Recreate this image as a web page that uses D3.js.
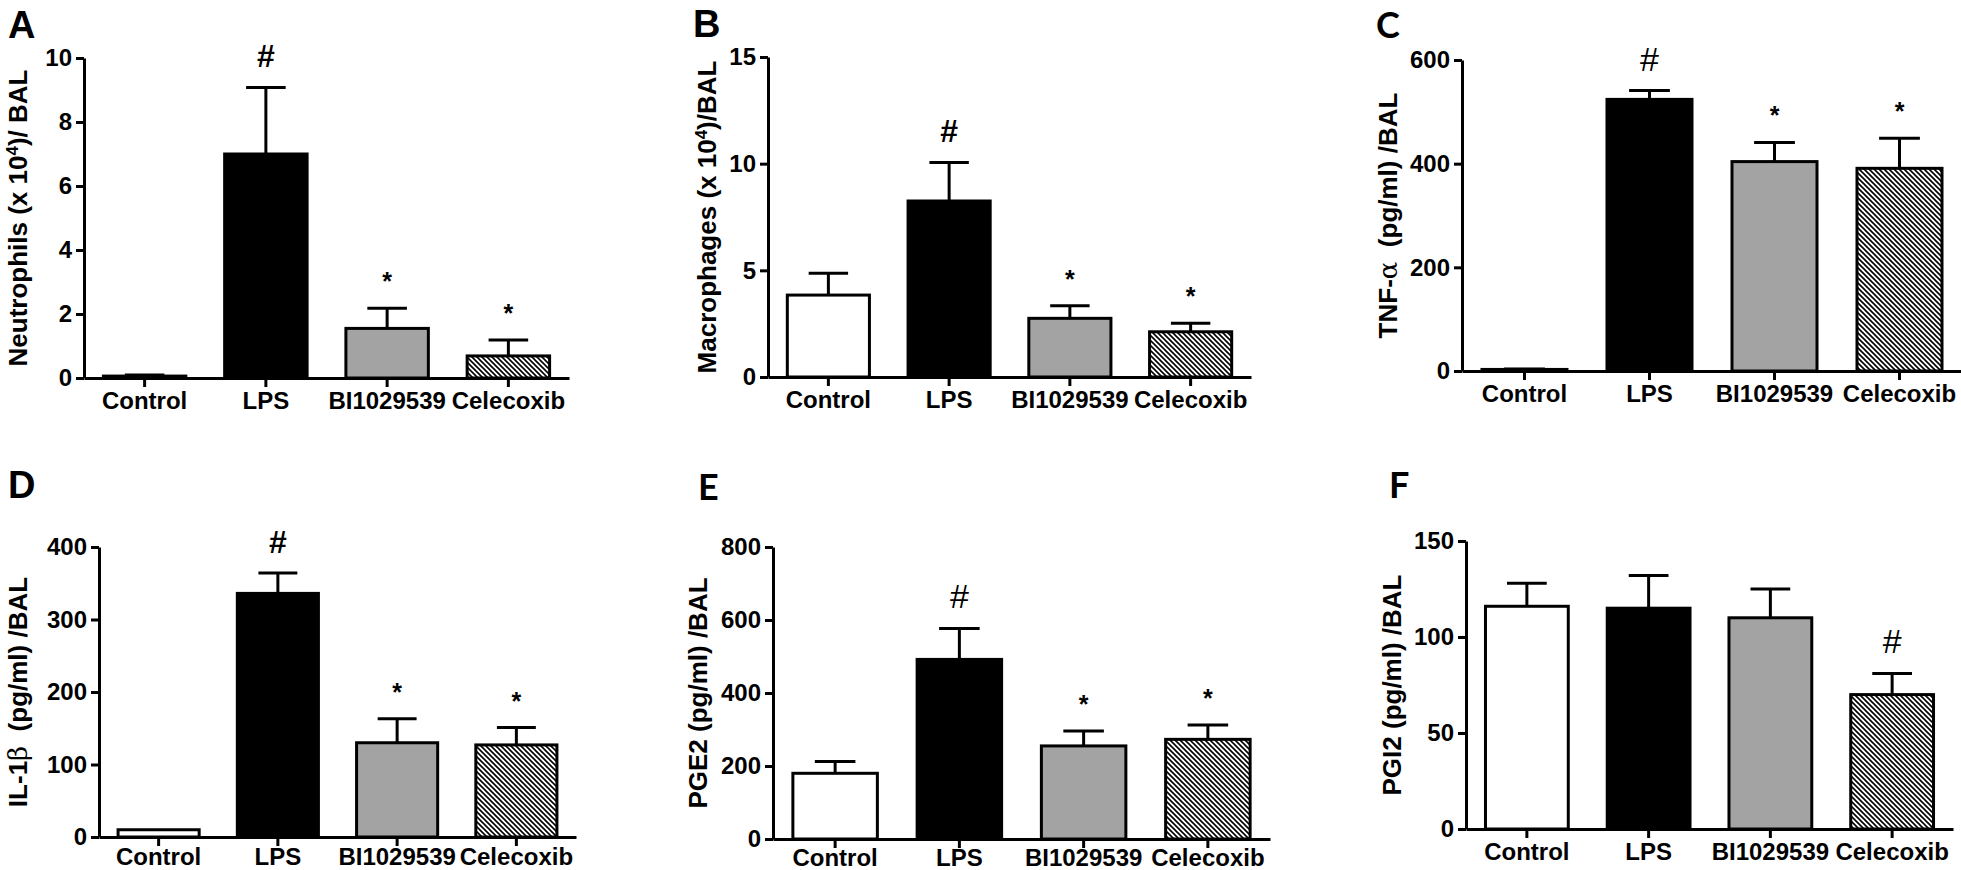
<!DOCTYPE html>
<html>
<head>
<meta charset="utf-8">
<script src="https://cdn.jsdelivr.net/npm/d3@7"></script>
<style>
  body { margin: 0; background: #fff; }
  svg { display: block; }
  text { font-family: "Liberation Sans", Arial, sans-serif; font-weight: bold; fill: #000; }
</style>
</head>
<body>
<script>
// groups on the x axis
var categories = ["Control", "LPS", "BI1029539", "Celecoxib"];

// bar means and upper error (SEM) for each panel
var neutrophils = [0.06, 7.0, 1.55, 0.69];
var neutrophilsErr = [0.03, 2.08, 0.63, 0.50];
var macrophages = [3.84, 8.25, 2.75, 2.12];
var macrophagesErr = [1.02, 1.81, 0.59, 0.40];
var tnfa = [3, 524, 404, 391];
var tnfaErr = [1, 17, 37, 58];
var il1b = [10, 336, 130, 127];
var il1bErr = [0, 28, 33, 24];
var pge2 = [180, 492, 255, 273];
var pge2Err = [32, 85, 41, 39];
var pgi2 = [116, 115, 110, 70];
var pgi2Err = [12, 17, 15, 11];

// significance marks above the bars
var marksLps = ["", "#", "*", "*"];
var marksPgi2 = ["", "", "", "#"];

// y axis tick values
var ticksA = [0, 2, 4, 6, 8, 10];
var ticksB = [0, 5, 10, 15];
var ticksC = [0, 200, 400, 600];
var ticksD = [0, 100, 200, 300, 400];
var ticksE = [0, 200, 400, 600, 800];
var ticksF = [0, 50, 100, 150];

// y axis titles, split so superscripts / greek can be styled
var titleA = [["Neutrophils (x 10", ""], ["4", "sup"], [")/ BAL", ""]];
var titleB = [["Macrophages (x 10", ""], ["4", "sup"], [")/BAL", ""]];
var titleC = [["TNF-", ""], ["\u03b1", "greek"], ["  (pg/ml) /BAL", ""]];
var titleD = [["IL-1", ""], ["\u03b2", "greek"], ["  (pg/ml) /BAL", ""]];
var titleE = [["PGE2 (pg/ml) /BAL", ""]];
var titleF = [["PGI2 (pg/ml) /BAL", ""]];

var fills = ["#ffffff", "#000000", "#a3a3a3", "url(#hatch)"];

// panel placement (pixels)
var panels = [
  {letter: "A", calibri: false, values: neutrophils, errs: neutrophilsErr, marks: marksLps, ticks: ticksA, title: titleA,
   x0: 84, x1: 569, top: 58, bottom: 378, titleX: 27, letterX: 8, letterY: 38, labelPad: 5},
  {letter: "B", calibri: false, values: macrophages, errs: macrophagesErr, marks: marksLps, ticks: ticksB, title: titleB,
   x0: 768, x1: 1251, top: 57, bottom: 377, titleX: 716, letterX: 693, letterY: 37, labelPad: 5},
  {letter: "C", calibri: true, values: tnfa, errs: tnfaErr, marks: marksLps, ticks: ticksC, title: titleC,
   x0: 1462, x1: 1962, top: 60, bottom: 371, titleX: 1397, letterX: 1376, letterY: 38, labelPad: 5},
  {letter: "D", calibri: false, values: il1b, errs: il1bErr, marks: marksLps, ticks: ticksD, title: titleD,
   x0: 99, x1: 576, top: 547, bottom: 837, titleX: 27, letterX: 8, letterY: 498, labelPad: 2},
  {letter: "E", calibri: true, values: pge2, errs: pge2Err, marks: marksLps, ticks: ticksE, title: titleE,
   x0: 773, x1: 1270, top: 547, bottom: 839, titleX: 707, letterX: 698, letterY: 500, labelPad: 1},
  {letter: "F", calibri: true, values: pgi2, errs: pgi2Err, marks: marksPgi2, ticks: ticksF, title: titleF,
   x0: 1466, x1: 1953, top: 541, bottom: 829, titleX: 1401, letterX: 1389, letterY: 498, labelPad: 5}
];

var svg = d3.select("body")
  .append("svg")
  .attr("width", 1961)
  .attr("height", 870);

// diagonal hatch for the Celecoxib bars
var pat = svg.append("defs").append("pattern")
  .attr("id", "hatch")
  .attr("patternUnits", "userSpaceOnUse")
  .attr("width", 5)
  .attr("height", 5);
pat.append("rect").attr("width", 5).attr("height", 5).attr("fill", "#fff");
pat.append("path")
  .attr("d", "M0,0L5,5M-1,4L1,6M4,-1L6,1")
  .attr("stroke", "#000")
  .attr("stroke-width", 1.6);

panels.forEach(function(p) {
  var g = svg.append("g");
  var ymax = p.ticks[p.ticks.length - 1];

  var x = d3.scaleBand()
    .domain(categories)
    .range([p.x0, p.x1])
    .paddingInner(0.32)
    .paddingOuter(0.16);
  var y = d3.scaleLinear()
    .domain([0, ymax])
    .range([p.bottom, p.top]);

  // error bars (upper half only)
  var capW = x.bandwidth() * 0.48;
  categories.forEach(function(c, i) {
    var cx = x(c) + x.bandwidth() / 2;
    var yTop = y(p.values[i] + p.errs[i]);
    if (p.errs[i] > 0) {
      g.append("line")
        .attr("x1", cx).attr("x2", cx)
        .attr("y1", y(p.values[i])).attr("y2", yTop)
        .attr("stroke", "#000").attr("stroke-width", 3);
      g.append("line")
        .attr("x1", cx - capW / 2).attr("x2", cx + capW / 2)
        .attr("y1", yTop).attr("y2", yTop)
        .attr("stroke", "#000").attr("stroke-width", 3);
    }
    if (p.marks[i]) {
      var hash = p.marks[i] == "#";
      var thin = p.calibri && hash;
      g.append("text")
        .attr("x", cx)
        .attr("y", yTop - (hash ? 20 : 18))
        .attr("text-anchor", "middle")
        .style("font-size", hash ? (thin ? "34px" : "32px") : "25px")
        .style("font-weight", thin ? "normal" : "bold")
        .text(p.marks[i]);
    }
  });

  // bars
  g.selectAll("rect.bar")
    .data(categories)
    .enter().append("rect")
    .attr("class", "bar")
    .attr("x", function(d) { return x(d); })
    .attr("width", x.bandwidth())
    .attr("y", function(d, i) { return y(p.values[i]); })
    .attr("height", function(d, i) { return p.bottom - y(p.values[i]); })
    .attr("fill", function(d, i) { return fills[i]; })
    .attr("stroke", "#000")
    .attr("stroke-width", 3);

  // x axis
  var xa = g.append("g")
    .attr("transform", "translate(0," + p.bottom + ")")
    .call(d3.axisBottom(x).tickSize(9).tickSizeOuter(0).tickPadding(p.labelPad));
  xa.selectAll("text").style("font-size", "24px");

  // y axis
  var ya = g.append("g")
    .attr("transform", "translate(" + p.x0 + ",0)")
    .call(d3.axisLeft(y).tickValues(p.ticks).tickSize(8).tickSizeOuter(0).tickPadding(4));
  ya.selectAll("text").style("font-size", "24px");

  g.selectAll(".domain, .tick line")
    .attr("stroke", "#000")
    .attr("stroke-width", 3);

  // y axis title
  var t = g.append("text")
    .attr("transform", "translate(" + p.titleX + "," + ((p.top + p.bottom) / 2) + ") rotate(-90)")
    .attr("text-anchor", "middle")
    .style("font-size", "26px")
    .style("white-space", "pre");
  p.title.forEach(function(part) {
    var s = t.append("tspan").text(part[0]);
    if (part[1] == "sup") s.attr("baseline-shift", "super").style("font-size", "17px");
    if (part[1] == "greek") s.style("font-family", "'DejaVu Serif', serif").style("font-weight", "normal");
  });

  // panel letter
  g.append("text")
    .attr("x", p.letterX)
    .attr("y", p.letterY)
    .style("font-family", p.calibri ? "Lato, 'Open Sans', sans-serif" : null)
    .style("font-size", p.calibri ? "36px" : "38px")
    .text(p.letter);
});
</script>
</body>
</html>
